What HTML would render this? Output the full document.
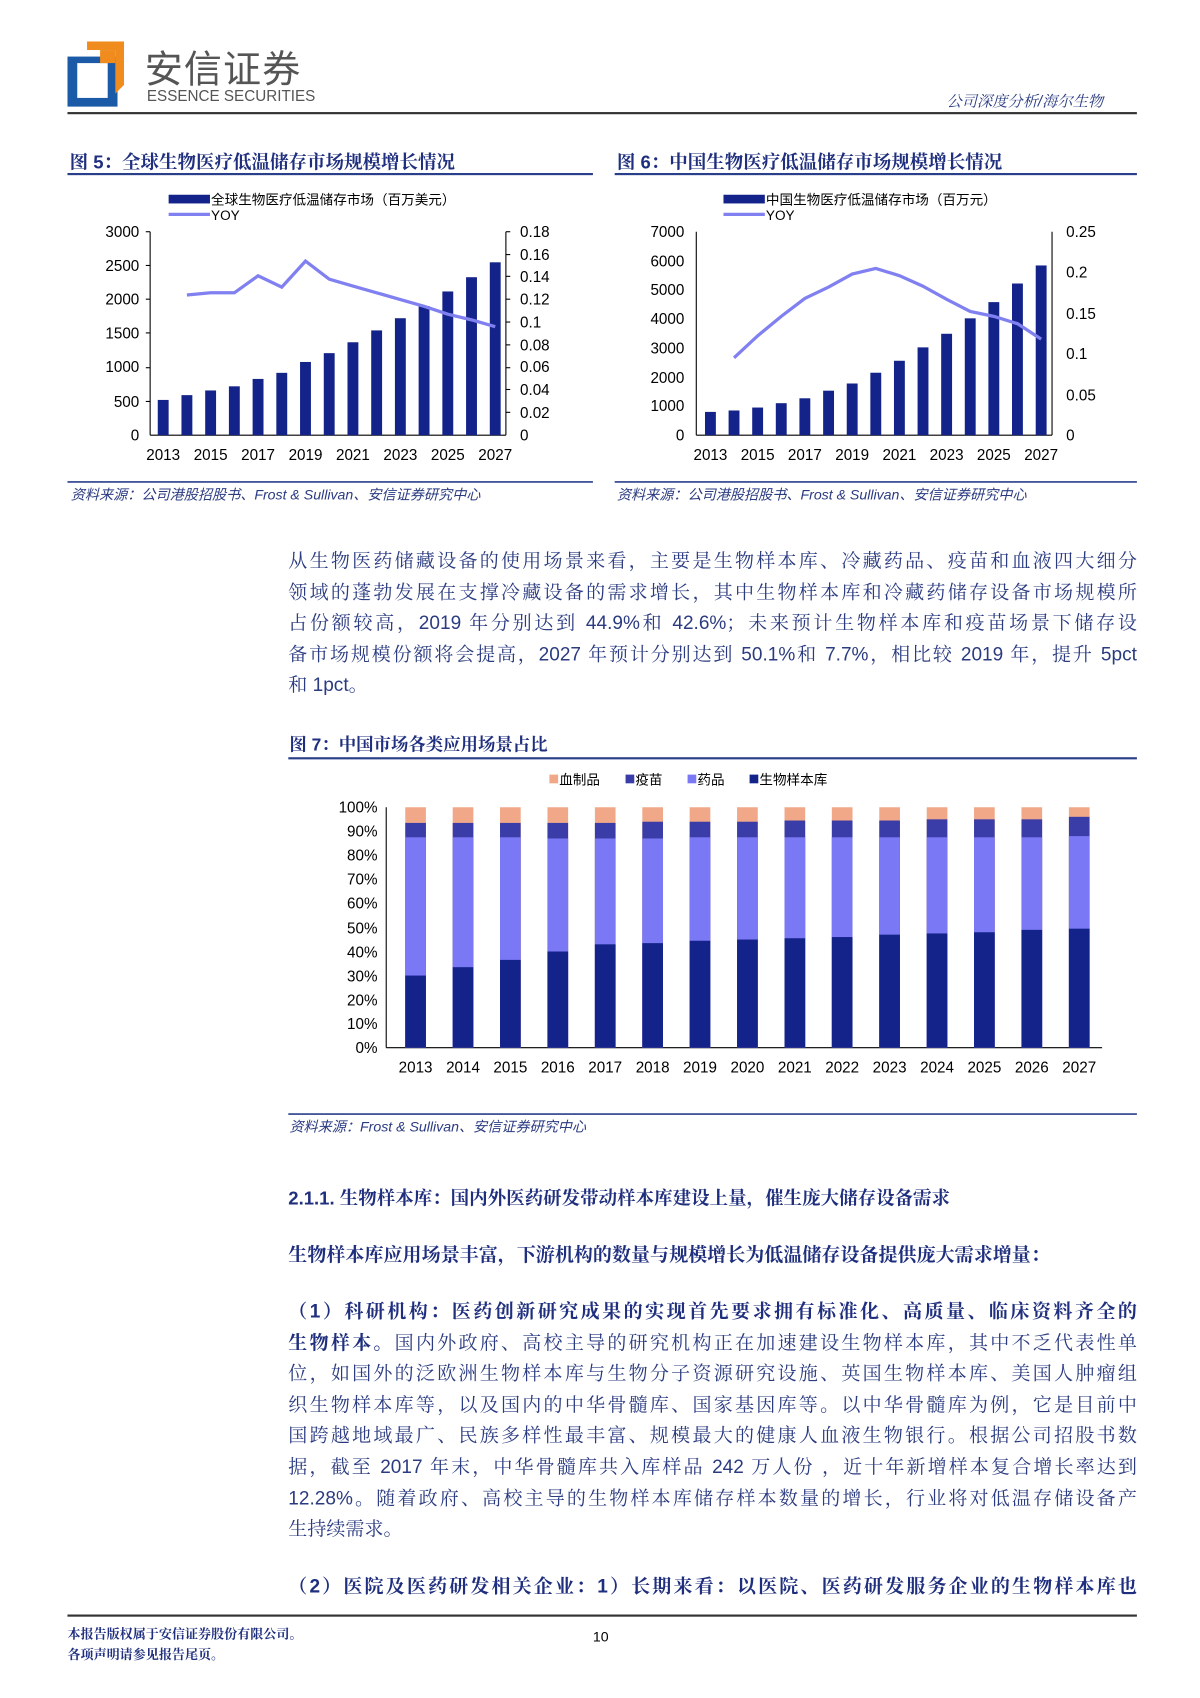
<!DOCTYPE html>
<html><head><meta charset="utf-8">
<style>
html,body{margin:0;padding:0;background:#fff;}
body{width:1200px;height:1698px;overflow:hidden;position:relative;}
#w{position:absolute;left:0;top:0;width:1103px;height:1561px;transform:scale(1.08794);transform-origin:0 0;}
.a{position:absolute;white-space:nowrap;}
.cn{font-family:"Liberation Sans","Noto Serif CJK SC",serif;}
.tt{font-family:"Liberation Sans","Noto Serif CJK SC",serif;font-weight:bold;color:#1f2f7e;font-size:17px;}
.body{font-family:"Liberation Sans","Noto Serif CJK SC",serif;color:#2b3b80;font-size:17.5px;text-align:justify;text-align-last:justify;}
.body.l{text-align-last:left;}
svg text{font-family:"Liberation Sans","Noto Sans CJK SC",sans-serif;}
</style></head><body><div id="w">
<!-- logo -->
<svg class="a" style="left:62px;top:38px" width="56" height="62">
<rect x="0" y="14" width="46" height="46" fill="#1a5aa6"/>
<rect x="9" y="20" width="28" height="32" fill="#fff"/>
<polygon points="18,0 52,0 52,40 44,48 44,8 18,8" fill="#f08c1e"/>
<rect x="30" y="8" width="14" height="12" fill="#f08c1e"/>
</svg>
<div class="a" style="left:133px;top:36px;font-family:'Noto Sans CJK SC',sans-serif;font-size:35px;color:#555;letter-spacing:1px">安信证券</div>
<div class="a" style="left:135px;top:80px;font-family:'Liberation Sans',sans-serif;font-size:14px;color:#555;">ESSENCE SECURITIES</div>
<div class="a cn" style="left:870px;top:83px;font-size:14px;color:#2b3b80;font-style:italic">公司深度分析/海尔生物</div>
<div class="a" style="left:62px;top:103px;width:983px;height:2px;background:#333"></div>

<div class="a tt" style="left:64px;top:135px">图 5：全球生物医疗低温储存市场规模增长情况</div>
<div class="a" style="left:62px;top:159px;width:483px;height:2px;background:#2a3f8a"></div>
<div class="a tt" style="left:567px;top:135px">图 6：中国生物医疗低温储存市场规模增长情况</div>
<div class="a" style="left:565px;top:159px;width:480px;height:2px;background:#2a3f8a"></div>

<svg class="a" style="left:0;top:0" width="1103" height="470">
<g font-size="14" fill="#000">
<!-- chart1 legend -->
<rect x="155" y="179" width="38" height="8" fill="#13238a"/>
<text x="194" y="188" font-size="12.5" font-family="Noto Serif CJK SC">全球生物医疗低温储存市场（百万美元）</text>
<line x1="155" y1="197" x2="193" y2="197" stroke="#8080f0" stroke-width="3"/>
<text x="194" y="202" font-size="12.5">YOY</text>
<!-- axes -->
<line x1="138" y1="213" x2="138" y2="400" stroke="#000"/>
<line x1="138" y1="400" x2="465" y2="400" stroke="#000"/>
<line x1="465" y1="213" x2="465" y2="400" stroke="#000"/>
<g text-anchor="end">
<text x="128" y="218">3000</text><text x="128" y="249">2500</text><text x="128" y="280">2000</text><text x="128" y="311">1500</text><text x="128" y="342">1000</text><text x="128" y="374">500</text><text x="128" y="405">0</text>
</g>
<g>
<text x="478" y="218">0.18</text><text x="478" y="239">0.16</text><text x="478" y="259">0.14</text><text x="478" y="280">0.12</text><text x="478" y="301">0.1</text><text x="478" y="322">0.08</text><text x="478" y="342">0.06</text><text x="478" y="363">0.04</text><text x="478" y="384">0.02</text><text x="478" y="405">0</text>
</g>
<g stroke="#000"><line x1="134" y1="213" x2="138" y2="213"/><line x1="134" y1="244" x2="138" y2="244"/><line x1="134" y1="275" x2="138" y2="275"/><line x1="134" y1="306" x2="138" y2="306"/><line x1="134" y1="338" x2="138" y2="338"/><line x1="134" y1="369" x2="138" y2="369"/>
<line x1="465" y1="213" x2="469" y2="213"/><line x1="465" y1="234" x2="469" y2="234"/><line x1="465" y1="254" x2="469" y2="254"/><line x1="465" y1="275" x2="469" y2="275"/><line x1="465" y1="296" x2="469" y2="296"/><line x1="465" y1="317" x2="469" y2="317"/><line x1="465" y1="338" x2="469" y2="338"/><line x1="465" y1="358" x2="469" y2="358"/><line x1="465" y1="379" x2="469" y2="379"/></g>
<g fill="#13238a">
<rect x="145" y="367.6" width="10" height="32.4"/><rect x="166.8" y="363.2" width="10" height="36.8"/><rect x="188.6" y="358.9" width="10" height="41.1"/><rect x="210.4" y="355.1" width="10" height="44.9"/><rect x="232.2" y="348.3" width="10" height="51.7"/><rect x="254" y="342.7" width="10" height="57.3"/><rect x="275.8" y="332.7" width="10" height="67.3"/><rect x="297.6" y="324.6" width="10" height="75.4"/><rect x="319.4" y="314.6" width="10" height="85.4"/><rect x="341.2" y="303.7" width="10" height="96.3"/><rect x="363" y="292.5" width="10" height="107.5"/><rect x="384.8" y="281.3" width="10" height="118.7"/><rect x="406.6" y="267.9" width="10" height="132.1"/><rect x="428.4" y="254.8" width="10" height="145.2"/><rect x="450.2" y="241.1" width="10" height="158.9"/>
</g>
<polyline fill="none" stroke="#8080f0" stroke-width="3" points="171.8,271.2 193.6,269.1 215.4,269.1 237.2,253.5 259,263.9 280.8,240 302.6,256.6 324.4,262.9 346.2,269.1 368,275.3 389.8,281.6 411.6,288.8 433.4,294 455.2,300.3"/>
<g text-anchor="middle"><text x="150" y="423">2013</text><text x="193.6" y="423">2015</text><text x="237.2" y="423">2017</text><text x="280.8" y="423">2019</text><text x="324.4" y="423">2021</text><text x="368" y="423">2023</text><text x="411.6" y="423">2025</text><text x="455.2" y="423">2027</text></g>

<!-- chart2 -->
<rect x="665" y="179" width="38" height="8" fill="#13238a"/>
<text x="704" y="188" font-size="12.5" font-family="Noto Serif CJK SC">中国生物医疗低温储存市场（百万元）</text>
<line x1="665" y1="197" x2="703" y2="197" stroke="#8080f0" stroke-width="3"/>
<text x="704" y="202" font-size="12.5">YOY</text>
<line x1="640" y1="213" x2="640" y2="400" stroke="#000"/>
<line x1="640" y1="400" x2="967" y2="400" stroke="#000"/>
<line x1="967" y1="213" x2="967" y2="400" stroke="#000"/>
<g text-anchor="end">
<text x="629" y="218">7000</text><text x="629" y="245">6000</text><text x="629" y="271">5000</text><text x="629" y="298">4000</text><text x="629" y="325">3000</text><text x="629" y="352">2000</text><text x="629" y="378">1000</text><text x="629" y="405">0</text>
</g>
<g><text x="980" y="218">0.25</text><text x="980" y="255">0.2</text><text x="980" y="293">0.15</text><text x="980" y="330">0.1</text><text x="980" y="368">0.05</text><text x="980" y="405">0</text></g>
<g fill="#13238a">
<rect x="648" y="378.6" width="10" height="21.4"/><rect x="669.7" y="377.3" width="10" height="22.7"/><rect x="691.4" y="374.6" width="10" height="25.4"/><rect x="713.1" y="370.6" width="10" height="29.4"/><rect x="734.8" y="366.1" width="10" height="33.9"/><rect x="756.6" y="359.1" width="10" height="40.9"/><rect x="778.3" y="352.5" width="10" height="47.5"/><rect x="800" y="342.6" width="10" height="57.4"/><rect x="821.7" y="331.6" width="10" height="68.4"/><rect x="843.4" y="319.3" width="10" height="80.7"/><rect x="865.1" y="306.8" width="10" height="93.2"/><rect x="886.8" y="292.6" width="10" height="107.4"/><rect x="908.5" y="277.7" width="10" height="122.3"/><rect x="930.2" y="260.6" width="10" height="139.4"/><rect x="952" y="244" width="10" height="156"/>
</g>
<polyline fill="none" stroke="#8080f0" stroke-width="3" points="674.7,328.9 696.4,308.7 718.1,290.8 739.8,274.3 761.6,263.9 783.3,251.9 805,246.7 826.7,253.4 848.4,263.1 870.1,275.1 891.8,286.3 913.5,290.8 935.2,297.5 957,311.7"/>
<g text-anchor="middle"><text x="653" y="423">2013</text><text x="696.4" y="423">2015</text><text x="739.8" y="423">2017</text><text x="783.3" y="423">2019</text><text x="826.7" y="423">2021</text><text x="870.1" y="423">2023</text><text x="913.5" y="423">2025</text><text x="957" y="423">2027</text></g>
</g>
<line x1="62" y1="443" x2="545" y2="443" stroke="#2a3f8a" stroke-width="1.5"/>
<line x1="565" y1="443" x2="1045" y2="443" stroke="#2a3f8a" stroke-width="1.5"/>
<text x="65" y="459" font-size="13" fill="#2b3b80" font-style="italic" font-family="Liberation Sans,Noto Serif CJK SC">资料来源：公司港股招股书、Frost &amp; Sullivan、安信证券研究中心</text>
<text x="567" y="459" font-size="13" fill="#2b3b80" font-style="italic" font-family="Liberation Sans,Noto Serif CJK SC">资料来源：公司港股招股书、Frost &amp; Sullivan、安信证券研究中心</text>
</svg>

<div class="a body" style="left:265px;top:502px;width:780px">从生物医药储藏设备的使用场景来看，主要是生物样本库、冷藏药品、疫苗和血液四大细分</div>
<div class="a body" style="left:265px;top:531px;width:780px">领域的蓬勃发展在支撑冷藏设备的需求增长，其中生物样本库和冷藏药储存设备市场规模所</div>
<div class="a body" style="left:265px;top:559px;width:780px">占份额较高，2019 年分别达到 44.9%和 42.6%；未来预计生物样本库和疫苗场景下储存设</div>
<div class="a body" style="left:265px;top:588px;width:780px">备市场规模份额将会提高，2027 年预计分别达到 50.1%和 7.7%，相比较 2019 年，提升 5pct</div>
<div class="a body l" style="left:265px;top:616px;width:780px">和 1pct。</div>

<div class="a tt" style="left:266px;top:672px;font-size:16px">图 7：中国市场各类应用场景占比</div>
<div class="a" style="left:265px;top:696px;width:780px;height:2px;background:#2a3f8a"></div>

<svg class="a" style="left:0;top:700px" width="1103" height="350">
<g transform="translate(0,-700)" font-size="14">
<g font-size="12.5" font-family="Noto Serif CJK SC">
<rect x="505" y="712" width="8" height="8" fill="#f0a888"/><text x="514" y="721">血制品</text>
<rect x="575" y="712" width="8" height="8" fill="#3a3ca8"/><text x="584" y="721">疫苗</text>
<rect x="632" y="712" width="8" height="8" fill="#7b78f5"/><text x="641" y="721">药品</text>
<rect x="689" y="712" width="8" height="8" fill="#13238a"/><text x="698" y="721">生物样本库</text>
</g>
<g text-anchor="end">
<text x="347" y="747">100%</text><text x="347" y="769">90%</text><text x="347" y="791">80%</text><text x="347" y="813">70%</text><text x="347" y="835">60%</text><text x="347" y="858">50%</text><text x="347" y="880">40%</text><text x="347" y="902">30%</text><text x="347" y="924">20%</text><text x="347" y="946">10%</text><text x="347" y="968">0%</text>
</g>
<line x1="355" y1="742" x2="355" y2="963" stroke="#000"/>
<line x1="355" y1="963" x2="1013" y2="963" stroke="#000"/>
<g id="b"></g>
<g fill="#f0a888">
<rect x="372.5" y="742" width="19" height="221"/><rect x="416.1" y="742" width="19" height="221"/><rect x="459.6" y="742" width="19" height="221"/><rect x="503.2" y="742" width="19" height="221"/><rect x="546.8" y="742" width="19" height="221"/><rect x="590.4" y="742" width="19" height="221"/><rect x="633.9" y="742" width="19" height="221"/><rect x="677.5" y="742" width="19" height="221"/><rect x="721.1" y="742" width="19" height="221"/><rect x="764.6" y="742" width="19" height="221"/><rect x="808.2" y="742" width="19" height="221"/><rect x="851.8" y="742" width="19" height="221"/><rect x="895.3" y="742" width="19" height="221"/><rect x="938.9" y="742" width="19" height="221"/><rect x="982.5" y="742" width="19" height="221"/>
</g>
<g fill="#3a3ca8">
<rect x="372.5" y="756.4" width="19" height="206.6"/><rect x="416.1" y="756.4" width="19" height="206.6"/><rect x="459.6" y="756.4" width="19" height="206.6"/><rect x="503.2" y="756.4" width="19" height="206.6"/><rect x="546.8" y="756.4" width="19" height="206.6"/><rect x="590.4" y="755.3" width="19" height="207.7"/><rect x="633.9" y="755.3" width="19" height="207.7"/><rect x="677.5" y="755.3" width="19" height="207.7"/><rect x="721.1" y="754.2" width="19" height="208.8"/><rect x="764.6" y="754.2" width="19" height="208.8"/><rect x="808.2" y="754.2" width="19" height="208.8"/><rect x="851.8" y="753.1" width="19" height="209.9"/><rect x="895.3" y="753.1" width="19" height="209.9"/><rect x="938.9" y="753.1" width="19" height="209.9"/><rect x="982.5" y="750.8" width="19" height="212.2"/>
</g>
<g fill="#7b78f5">
<rect x="372.5" y="769.6" width="19" height="193.4"/><rect x="416.1" y="769.6" width="19" height="193.4"/><rect x="459.6" y="769.6" width="19" height="193.4"/><rect x="503.2" y="770.7" width="19" height="192.3"/><rect x="546.8" y="770.7" width="19" height="192.3"/><rect x="590.4" y="770.7" width="19" height="192.3"/><rect x="633.9" y="769.6" width="19" height="193.4"/><rect x="677.5" y="769.6" width="19" height="193.4"/><rect x="721.1" y="769.6" width="19" height="193.4"/><rect x="764.6" y="769.6" width="19" height="193.4"/><rect x="808.2" y="769.6" width="19" height="193.4"/><rect x="851.8" y="769.6" width="19" height="193.4"/><rect x="895.3" y="769.6" width="19" height="193.4"/><rect x="938.9" y="769.6" width="19" height="193.4"/><rect x="982.5" y="768.5" width="19" height="194.5"/>
</g>
<g fill="#13238a">
<rect x="372.5" y="896.7" width="19" height="66.3"/><rect x="416.1" y="889" width="19" height="74"/><rect x="459.6" y="882.3" width="19" height="80.7"/><rect x="503.2" y="874.6" width="19" height="88.4"/><rect x="546.8" y="868" width="19" height="95"/><rect x="590.4" y="866.9" width="19" height="96.1"/><rect x="633.9" y="864.7" width="19" height="98.3"/><rect x="677.5" y="863.6" width="19" height="99.4"/><rect x="721.1" y="862.4" width="19" height="100.6"/><rect x="764.6" y="861.3" width="19" height="101.7"/><rect x="808.2" y="859.1" width="19" height="103.9"/><rect x="851.8" y="858" width="19" height="105"/><rect x="895.3" y="856.9" width="19" height="106.1"/><rect x="938.9" y="854.7" width="19" height="108.3"/><rect x="982.5" y="853.6" width="19" height="109.4"/>
</g>
<g text-anchor="middle">
<text x="382" y="986">2013</text><text x="425.6" y="986">2014</text><text x="469.1" y="986">2015</text><text x="512.7" y="986">2016</text><text x="556.3" y="986">2017</text><text x="599.9" y="986">2018</text><text x="643.4" y="986">2019</text><text x="687" y="986">2020</text><text x="730.6" y="986">2021</text><text x="774.1" y="986">2022</text><text x="817.7" y="986">2023</text><text x="861.3" y="986">2024</text><text x="904.8" y="986">2025</text><text x="948.4" y="986">2026</text><text x="992" y="986">2027</text>
</g>
<line x1="265" y1="1024" x2="1045" y2="1024" stroke="#2a3f8a" stroke-width="1.5"/>
<text x="266" y="1040" font-size="13" fill="#2b3b80" font-style="italic" font-family="Liberation Sans,Noto Serif CJK SC">资料来源：Frost &amp; Sullivan、安信证券研究中心</text>
</g>
</svg>

<div class="a tt" style="left:265px;top:1087px;font-size:17px">2.1.1. 生物样本库：国内外医药研发带动样本库建设上量，催生庞大储存设备需求</div>
<div class="a tt" style="left:265px;top:1140px;font-size:17.5px">生物样本库应用场景丰富，下游机构的数量与规模增长为低温储存设备提供庞大需求增量：</div>

<div class="a body" style="left:265px;top:1192px;width:780px"><b style="color:#1f2f7e">（1）科研机构：医药创新研究成果的实现首先要求拥有标准化、高质量、临床资料齐全的</b></div>
<div class="a body" style="left:265px;top:1221px;width:780px"><b style="color:#1f2f7e">生物样本。</b>国内外政府、高校主导的研究机构正在加速建设生物样本库，其中不乏代表性单</div>
<div class="a body" style="left:265px;top:1249px;width:780px">位，如国外的泛欧洲生物样本库与生物分子资源研究设施、英国生物样本库、美国人肿瘤组</div>
<div class="a body" style="left:265px;top:1278px;width:780px">织生物样本库等，以及国内的中华骨髓库、国家基因库等。以中华骨髓库为例，它是目前中</div>
<div class="a body" style="left:265px;top:1306px;width:780px">国跨越地域最广、民族多样性最丰富、规模最大的健康人血液生物银行。根据公司招股书数</div>
<div class="a body" style="left:265px;top:1335px;width:780px">据，截至 2017 年末，中华骨髓库共入库样品 242 万人份 ，近十年新增样本复合增长率达到</div>
<div class="a body" style="left:265px;top:1364px;width:780px">12.28%。随着政府、高校主导的生物样本库储存样本数量的增长，行业将对低温存储设备产</div>
<div class="a body l" style="left:265px;top:1392px;width:780px">生持续需求。</div>
<div class="a body" style="left:265px;top:1445px;width:780px"><b style="color:#1f2f7e">（2）医院及医药研发相关企业：1）长期来看：以医院、医药研发服务企业的生物样本库也</b></div>

<div class="a" style="left:62px;top:1484px;width:983px;height:2px;background:#333"></div>
<div class="a cn" style="left:62px;top:1493px;font-size:12px;font-weight:bold;color:#1f2f7e">本报告版权属于安信证券股份有限公司。</div>
<div class="a cn" style="left:62px;top:1512px;font-size:12px;font-weight:bold;color:#1f2f7e">各项声明请参见报告尾页。</div>
<div class="a" style="left:545px;top:1497px;font-family:'Liberation Sans',sans-serif;font-size:13px;color:#000">10</div>
</div></body></html>
